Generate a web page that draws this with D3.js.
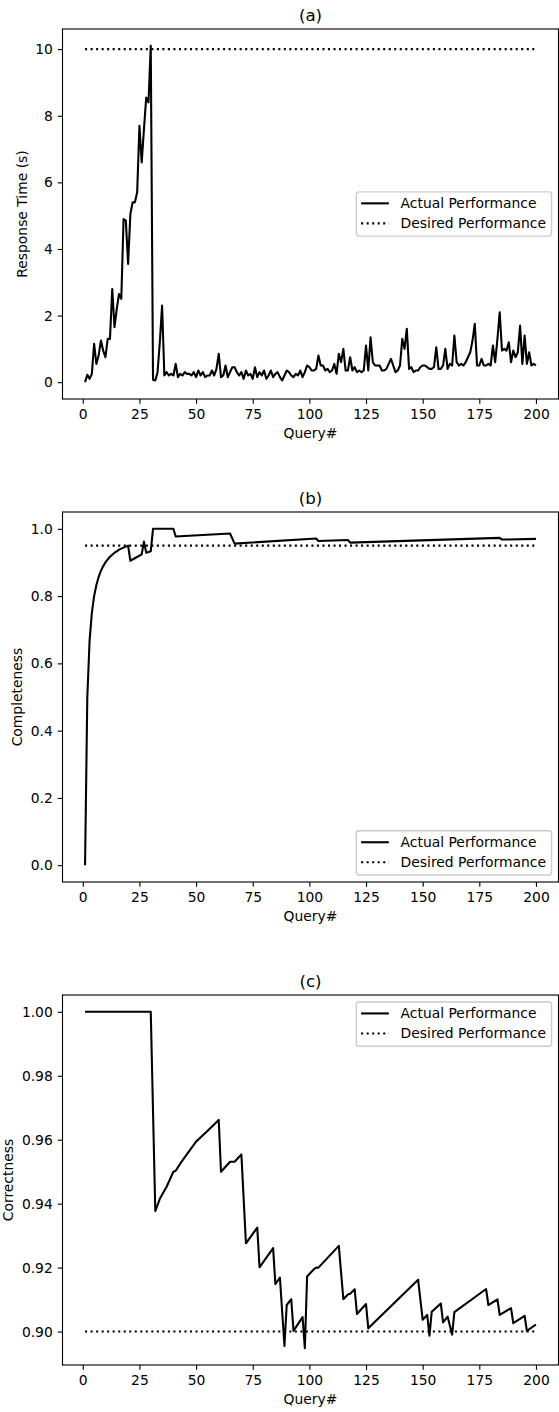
<!DOCTYPE html>
<html>
<head>
<meta charset="utf-8">
<script src="https://cdn.jsdelivr.net/npm/d3@7"></script>
<style>
  body { margin: 0; background: #fff; }
  svg { display: block; font-family: 'DejaVu Sans', sans-serif; }
</style>
</head>
<body>
<svg id="chart"></svg>
<script>
// (a) response time (s), one value per query 1..200
const responseTime = [
  0.0, 0.22, 0.1, 0.25, 1.15, 0.55, 0.8, 1.25, 0.95, 0.75,
  1.3, 1.3, 2.8, 1.65, 2.2, 2.65, 2.5, 4.9, 4.85, 3.55,
  5.05, 5.4, 5.4, 5.7, 7.7, 6.6, 7.6, 8.55, 8.4, 10.1,
  0.07, 0.05, 0.3, 1.2, 2.3, 0.2, 0.3, 0.2, 0.25, 0.2,
  0.55, 0.15, 0.25, 0.2, 0.3, 0.25, 0.25, 0.2, 0.3, 0.15,
  0.35, 0.2, 0.3, 0.15, 0.2, 0.2, 0.35, 0.2, 0.4, 0.85,
  0.15, 0.2, 0.5, 0.15, 0.3, 0.45, 0.45, 0.3, 0.2, 0.3,
  0.1, 0.35, 0.2, 0.25, 0.1, 0.45, 0.15, 0.3, 0.2, 0.35,
  0.1, 0.2, 0.35, 0.15, 0.25, 0.3, 0.15, 0.05, 0.2, 0.35,
  0.3, 0.2, 0.15, 0.25, 0.2, 0.35, 0.15, 0.3, 0.5, 0.45,
  0.35, 0.35, 0.4, 0.8, 0.5, 0.5, 0.35, 0.4, 0.3, 0.35,
  0.55, 0.25, 0.85, 0.6, 1.0, 0.35, 0.35, 0.75, 0.35, 0.45,
  0.3, 0.35, 0.3, 0.35, 1.1, 0.35, 1.35, 0.6, 0.5, 0.5,
  0.5, 0.35, 0.35, 0.4, 0.55, 0.7, 0.5, 0.3, 0.35, 0.5,
  1.3, 1.0, 1.6, 0.4, 0.45, 0.3, 0.35, 0.35, 0.45, 0.5,
  0.5, 0.45, 0.4, 0.4, 0.45, 1.05, 0.4, 0.4, 0.5, 1.0,
  0.4, 0.55, 0.5, 1.4, 0.6, 0.5, 0.55, 0.5, 0.6, 0.75,
  0.9, 1.25, 1.75, 0.5, 0.5, 0.7, 0.5, 0.5, 0.55, 0.5,
  1.1, 0.6, 1.3, 2.1, 0.95, 1.0, 0.95, 1.2, 0.6, 0.95,
  0.75, 0.9, 1.7, 0.55, 1.4, 0.55, 0.9, 0.5, 0.55, 0.5
]
const responseQuery = d3.range(1, responseTime.length + 1)

// (b) completeness, read at the visible vertices
const completenessQuery = [
  1, 2, 3, 4, 5, 6, 7, 8, 9, 10, 11, 12, 13, 14, 15, 16, 17, 18, 19, 20,
  21, 26, 27, 28, 30, 31, 40, 41, 65, 67, 103, 104, 117, 118, 184, 185, 200
]
const completeness = [
  0.0, 0.5, 0.667, 0.75, 0.8, 0.833, 0.857, 0.875, 0.889, 0.9,
  0.909, 0.917, 0.923, 0.929, 0.933, 0.938, 0.941, 0.944, 0.947, 0.95,
  0.905, 0.924, 0.962, 0.929, 0.933, 1.0, 1.0, 0.977, 0.986, 0.956,
  0.971, 0.964, 0.967, 0.959, 0.973, 0.968, 0.97
]

// (c) correctness, read at the visible vertices
const correctnessQuery = [
  1, 30, 32, 34, 37, 40, 41, 43, 46, 50, 55, 60, 61, 65, 67, 70, 72, 77, 78, 84,
  85, 87, 89, 90, 92, 93, 97, 98, 99, 102, 103, 104, 113, 115, 117, 118, 120, 121, 125, 126,
  148, 150, 152, 153, 154, 158, 159, 161, 163, 164, 178, 179, 183, 184, 189, 190, 195, 196, 200
]
const correctness = [
  1.0, 1.0, 0.9377, 0.9415, 0.9453, 0.95, 0.9503, 0.9525, 0.9555, 0.9594, 0.9627, 0.9662, 0.95, 0.9531, 0.9531, 0.9554, 0.9276, 0.9325, 0.9201, 0.9261,
  0.9148, 0.9169, 0.8955, 0.9083, 0.9101, 0.9002, 0.9045, 0.8948, 0.9172, 0.9195, 0.92, 0.92, 0.9268, 0.9101, 0.9116, 0.9118, 0.9132, 0.9055, 0.9086, 0.901,
  0.9162, 0.9037, 0.9052, 0.8987, 0.9062, 0.9088, 0.9029, 0.9047, 0.899, 0.9061, 0.9133, 0.9083, 0.9101, 0.9052, 0.9073, 0.9026, 0.9049, 0.9002, 0.9022
]

// desired performance levels and tick labels
const desiredLevels = [10, 0.95, 0.9]
const titles = ['(a)', '(b)', '(c)']
const yLabels = ['Response Time (s)', 'Completeness', 'Correctness']
const yTicks = [
  [0, 2, 4, 6, 8, 10],
  [0.0, 0.2, 0.4, 0.6, 0.8, 1.0],
  [0.90, 0.92, 0.94, 0.96, 0.98, 1.00]
]
const yFormats = ['d', '.1f', '.2f']
const xTicks = [0, 25, 50, 75, 100, 125, 150, 175, 200]
const legendLabels = ['Actual Performance', 'Desired Performance']
const legendPlaces = ['center', 'lower', 'upper']

const width = 559
const height = 1412
const pt = 100 / 72
const fontSize = 10 * pt
const left = 62.5
const right = 558.5
const tops = [29, 512, 995]
const panelHeight = 370

const svg = d3.select('#chart')
  .attr('width', width)
  .attr('height', height)

const panels = [
  { x: responseQuery, y: responseTime },
  { x: completenessQuery, y: completeness },
  { x: correctnessQuery, y: correctness }
]

// matplotlib style 5% margins
function padded (lo, hi) {
  const m = (hi - lo) * 0.05
  return [lo - m, hi + m]
}

panels.forEach((p, i) => {
  const top = tops[i]
  const bottom = top + panelHeight
  const data = p.x.map((q, k) => ({ q: q, v: p.y[k] }))
  const desired = [{ q: p.x[0], v: desiredLevels[i] }, { q: p.x[p.x.length - 1], v: desiredLevels[i] }]

  const x = d3.scaleLinear()
    .domain(padded(d3.min(p.x), d3.max(p.x)))
    .range([left, right])
  const yLo = Math.min(d3.min(p.y), desiredLevels[i])
  const yHi = Math.max(d3.max(p.y), desiredLevels[i])
  const y = d3.scaleLinear()
    .domain(padded(yLo, yHi))
    .range([bottom, top])

  const g = svg.append('g')

  const line = d3.line().x(d => x(d.q)).y(d => y(d.v))

  g.append('path')
    .datum(desired)
    .attr('d', line)
    .attr('fill', 'none')
    .attr('stroke', '#000')
    .attr('stroke-width', 1.5 * pt)
    .attr('stroke-dasharray', `${1.5 * pt} ${1.5 * 1.65 * pt}`)

  g.append('path')
    .datum(data)
    .attr('d', line)
    .attr('fill', 'none')
    .attr('stroke', '#000')
    .attr('stroke-width', 1.5 * pt)
    .attr('stroke-linejoin', 'round')

  // axes
  const gx = g.append('g')
    .attr('transform', `translate(0,${bottom})`)
    .call(d3.axisBottom(x).tickValues(xTicks).tickSize(3.5 * pt).tickPadding(3.5 * pt))
  const gy = g.append('g')
    .attr('transform', `translate(${left},0)`)
    .call(d3.axisLeft(y).tickValues(yTicks[i]).tickFormat(d3.format(yFormats[i]))
      .tickSize(3.5 * pt).tickPadding(3.5 * pt))

  ;[gx, gy].forEach(a => {
    a.select('.domain').remove()
    a.selectAll('line').attr('stroke', '#000').attr('stroke-width', 0.8 * pt)
    a.selectAll('text')
      .attr('fill', '#000')
      .style('font-size', fontSize + 'px')
      .style('font-family', "'DejaVu Sans', sans-serif")
  })
  gx.selectAll('text').attr('dy', '0.76em')

  // spines
  g.append('rect')
    .attr('x', left)
    .attr('y', top)
    .attr('width', right - left)
    .attr('height', bottom - top)
    .attr('fill', 'none')
    .attr('stroke', '#000')
    .attr('stroke-width', 0.8 * pt)

  // title and axis labels
  g.append('text')
    .attr('x', (left + right) / 2)
    .attr('y', top - 6 * pt)
    .attr('text-anchor', 'middle')
    .style('font-size', 12 * pt + 'px')
    .text(titles[i])

  g.append('text')
    .attr('x', (left + right) / 2)
    .attr('y', bottom + 39)
    .attr('text-anchor', 'middle')
    .style('font-size', fontSize + 'px')
    .text('Query#')

  const tickBox = gy.node().getBBox()
  const labelX = left + tickBox.x - 4 * pt - 2.9
  g.append('text')
    .attr('transform', `translate(${labelX},${(top + bottom) / 2}) rotate(-90)`)
    .attr('text-anchor', 'middle')
    .style('font-size', fontSize + 'px')
    .text(yLabels[i])

  // legend
  const leg = g.append('g')
  const texts = legendLabels.map((t, k) => leg.append('text')
    .attr('x', 0)
    .attr('y', 0)
    .style('font-size', fontSize + 'px')
    .text(t))
  const textW = d3.max(texts, t => t.node().getComputedTextLength())
  const boxW = 44.3 + textW + 0.4 * fontSize
  const boxH = 44.3
  const boxX = right - 0.5 * fontSize - boxW
  let boxY
  if (legendPlaces[i] === 'upper') boxY = top + 0.5 * fontSize
  else if (legendPlaces[i] === 'lower') boxY = bottom - 0.5 * fontSize - boxH
  else boxY = (top + bottom) / 2 - boxH / 2

  leg.insert('rect', 'text')
    .attr('x', boxX)
    .attr('y', boxY)
    .attr('width', boxW)
    .attr('height', boxH)
    .attr('rx', 0.2 * fontSize)
    .attr('fill', '#fff')
    .attr('fill-opacity', 0.8)
    .attr('stroke', '#cccccc')
    .attr('stroke-width', 1 * pt)

  texts.forEach((t, k) => {
    const rowY = boxY + 11.5 + k * 20
    t.attr('x', boxX + 44.3).attr('y', rowY).attr('dy', '0.35em')
    leg.append('line')
      .attr('x1', boxX + 4.8)
      .attr('x2', boxX + 4.8 + 2 * fontSize)
      .attr('y1', rowY)
      .attr('y2', rowY)
      .attr('stroke', '#000')
      .attr('stroke-width', 1.5 * pt)
      .attr('stroke-dasharray', k === 1 ? `${1.5 * pt} ${1.5 * 1.65 * pt}` : null)
  })
})
</script>
</body>
</html>
